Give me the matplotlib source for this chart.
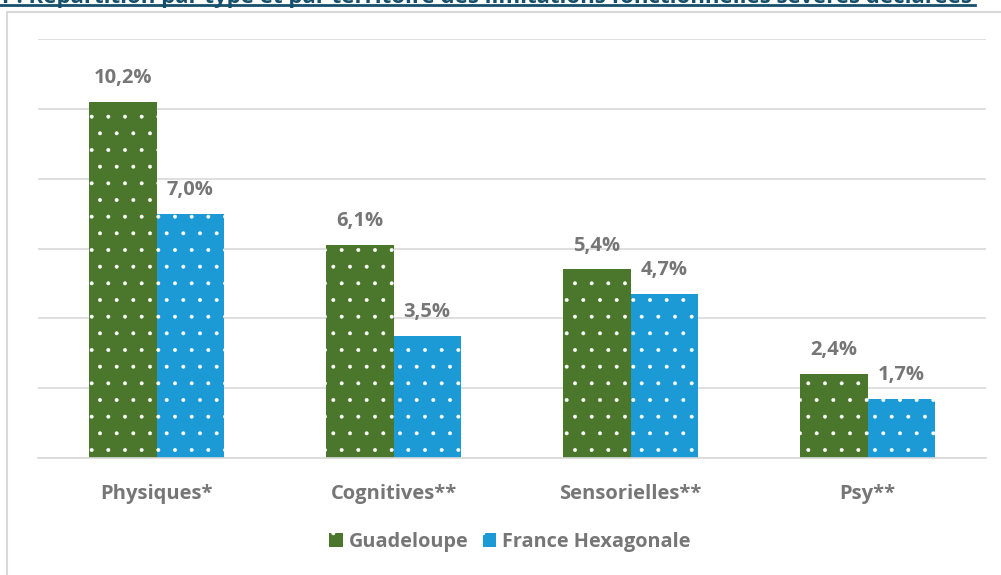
import matplotlib
matplotlib.use("Agg")
import matplotlib.pyplot as plt
import numpy as np
from matplotlib.patches import Rectangle
from matplotlib.lines import Line2D

categories = ["Physiques*", "Cognitives**", "Sensorielles**", "Psy**"]
guadeloupe = [10.2, 6.1, 5.4, 2.4]
france = [7.0, 3.5, 4.7, 1.7]
series_names = ["Guadeloupe", "France Hexagonale"]
title = "1 : Répartition par type et par territoire des limitations fonctionnelles sévères déclarées"

green = "#4B772C"
blue = "#1C9AD6"
grey_txt = "#767676"

plt.rcParams['font.family'] = ['Open Sans', 'DejaVu Sans']
plt.rcParams['hatch.color'] = 'white'
plt.rcParams['hatch.linewidth'] = 0.35

W, H = 1001, 575
fig = plt.figure(figsize=(W / 100, H / 100), dpi=100)
ax = fig.add_axes([38 / W, 1 - 458 / H, (986 - 38) / W, (458 - 39) / H])

x = np.arange(len(categories))
bw = 0.283
b1 = ax.bar(x - bw / 2, guadeloupe, bw, color=green, hatch='.', edgecolor='white',
            linewidth=0, label=series_names[0])
b2 = ax.bar(x + bw / 2, france, bw, color=blue, hatch='.', edgecolor='white',
            linewidth=0, label=series_names[1])

for bars, vals in ((b1, guadeloupe), (b2, france)):
    for r, v in zip(bars, vals):
        ax.annotate(f"{v:.1f}%".replace('.', ','), (r.get_x() + r.get_width() / 2, v),
                    xytext=(0, 10), textcoords='offset points', ha='center', va='bottom',
                    fontsize=14.5, fontweight='bold', color=grey_txt)

ax.set_xlim(-0.5, 3.5)
ax.set_ylim(0, 12)
ax.set_yticks(np.arange(0, 13, 2))
ax.yaxis.grid(True, color='#d9d9d9', linewidth=1.2)
ax.set_axisbelow(True)
ax.tick_params(axis='y', left=False, labelleft=False)
ax.tick_params(axis='x', length=0, pad=19)
ax.set_xticks(x)
ax.set_xticklabels(categories, fontsize=14.5, fontweight='bold', color=grey_txt)
for s in ['top', 'right', 'left']:
    ax.spines[s].set_visible(False)
ax.spines['bottom'].set_color('#d9d9d9')
ax.spines['bottom'].set_linewidth(1.2)

leg = fig.legend(handles=[b1, b2], loc='center', bbox_to_anchor=(510 / W, 1 - 542 / H),
                 ncol=2, frameon=False, handlelength=0.7, handleheight=0.7,
                 handletextpad=0.3, columnspacing=0.7,
                 prop={'size': 14.3, 'weight': 'bold'})
for t in leg.get_texts():
    t.set_color(grey_txt)

# outer chart frame
fig.add_artist(Rectangle((7 / W, -0.01), 1.0, 1 - 12 / H + 0.01, transform=fig.transFigure,
                         fill=False, edgecolor='#d9d9d9', linewidth=1.5))

# cut-off title at top
fig.text(972 / W, 1 - 3 / H, title, ha='right', va='baseline', fontsize=16,
         fontweight='bold', color='#17506B')
fig.add_artist(Line2D([0, 975 / W], [1 - 5 / H, 1 - 5 / H], transform=fig.transFigure,
                      color='#17506B', linewidth=2))

fig.savefig("out.png", dpi=100)
